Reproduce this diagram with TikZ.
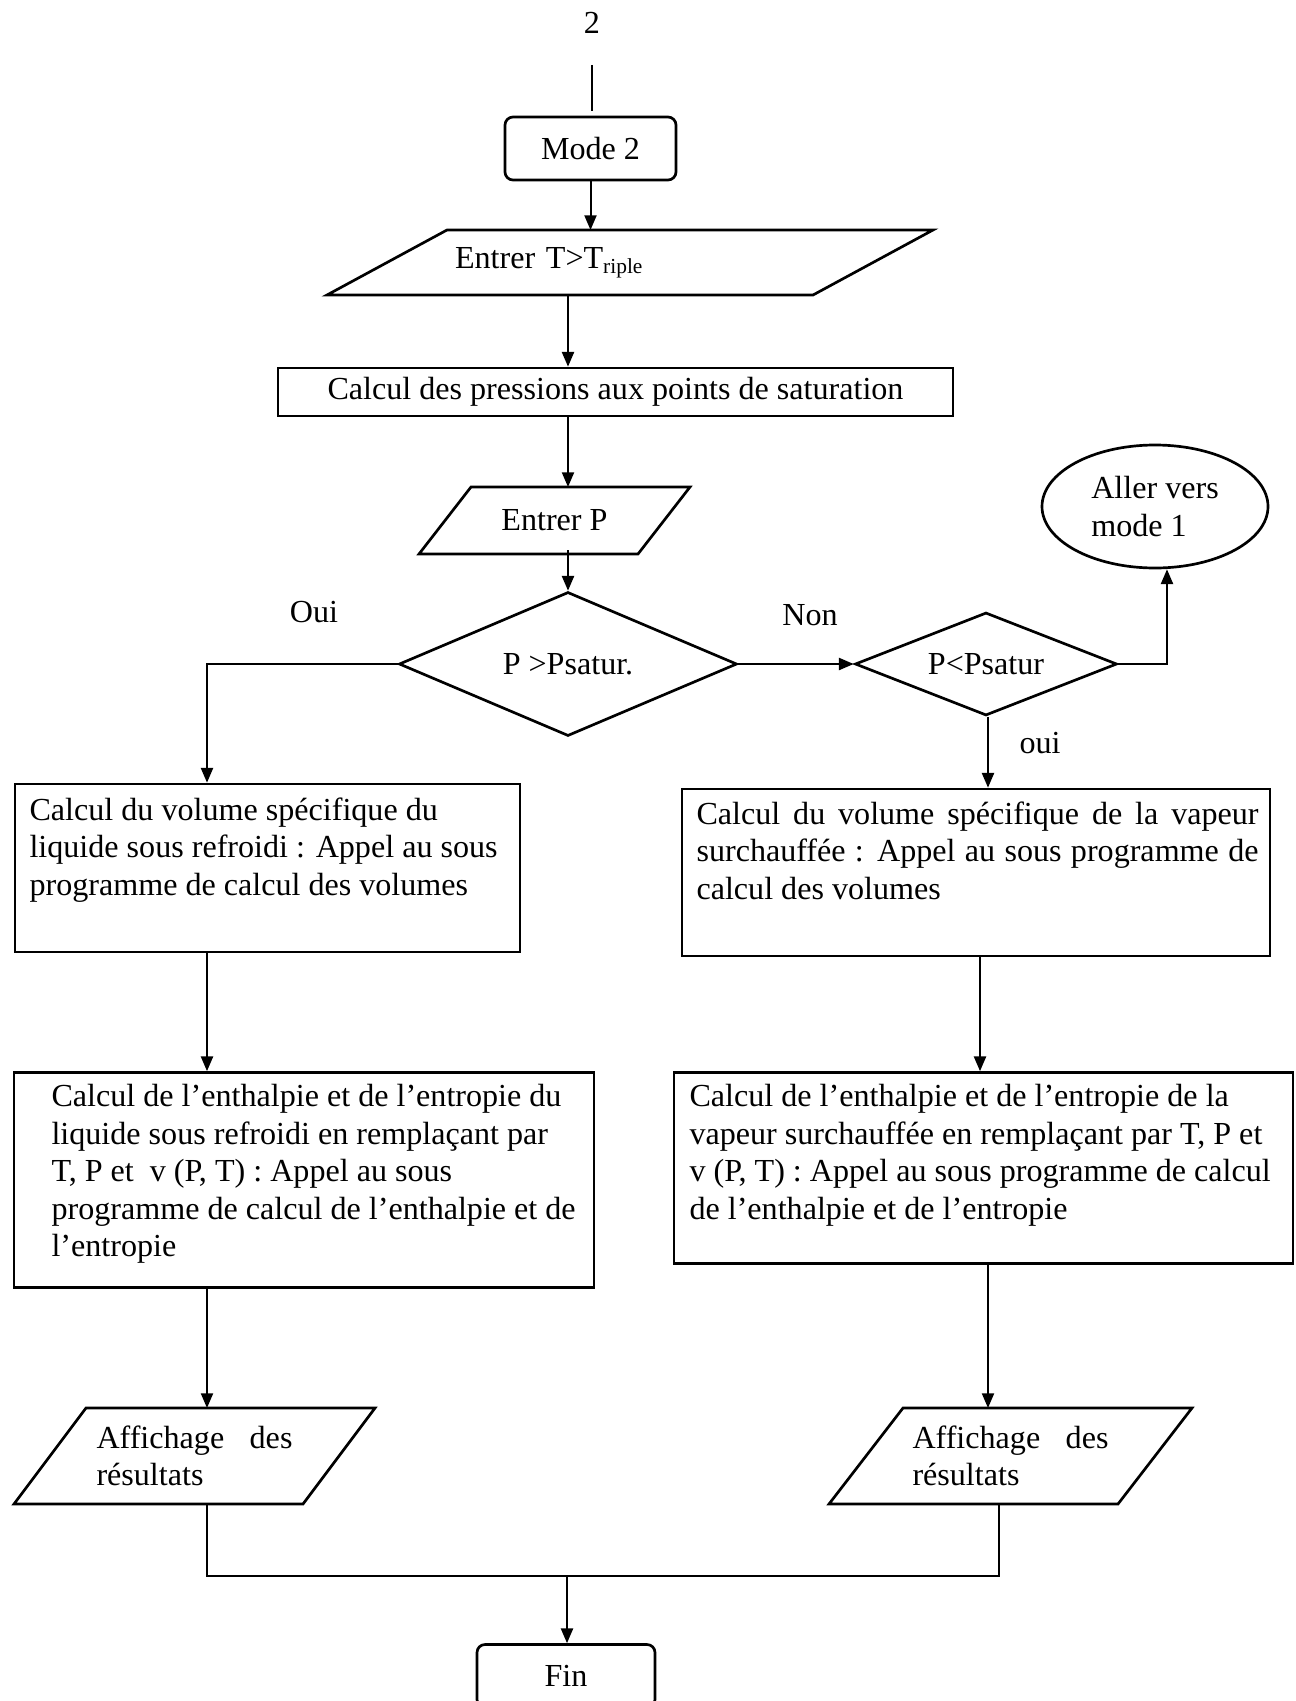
\documentclass[tikz,border=0pt]{standalone}
\usepackage{fontspec}
\setmainfont{Liberation Serif}
\usetikzlibrary{shapes.geometric, positioning, calc, arrows.meta}
\tolerance=10000
\newcommand{\unitpx}{0.3738pt}
\tikzset{
    dim/.style 2 args={minimum width=#1*\unitpx, minimum height=#2*\unitpx},
    blocco/.style={draw, line width=1pt, inner sep=0pt},
    arrondi/.style={blocco, rounded corners=3pt},
    losange/.style={blocco, diamond},
    sortie/.style={inner sep=0pt, outer sep=0pt},
    contorno/.style={draw, line width=1pt, line join=miter},
    testo/.style={inner sep=0pt, anchor=north west, align=left},
    linea/.style={line width=0.75pt},
    freccia/.style={line width=0.75pt, -{Triangle[length=5.5pt,width=4.5pt]}}
}
\begin{document}
\begin{tikzpicture}[x=\unitpx, y=-\unitpx, font=\fontsize{12}{14}\selectfont]
        \useasboundingbox (0,0) rectangle (1295,1701);
        %blocchi
            \node[inner sep=0pt] (deux) at (592,23) {2};
            \node[arrondi, dim={171}{63}] (mode2) at (590.5,148.5) {Mode 2};
            \node[sortie, dim={606}{65}, text width=350*\unitpx, align=left] (entT) at (630,262.5) {Entrer T>T\textsubscript{riple}};
            \node[blocco, dim={675}{48}] (calc) at (615.5,392) {Calcul des pressions aux points de saturation};
            \node[sortie, dim={271}{67}] (entP) at (554.5,520.5) {Entrer P};
            \node[losange, aspect=2.35, dim={338}{144}] (dia1) at (568,664) {P >Psatur.};
            \node[losange, aspect=2.54, dim={262}{103}] (dia2) at (986,664) {P<Psatur};
            \node[blocco, ellipse, dim={226}{123}, align=left] (aller) at (1155,506.5) {Aller vers\\mode 1};
            \node[blocco, dim={505}{168}] (volL) at (267.5,868) {};
            \node[blocco, dim={588}{167}] (volR) at (976,872.5) {};
            \node[blocco, dim={580}{215}] (enthL) at (304,1180) {};
            \node[blocco, dim={619}{191}] (enthR) at (983.5,1168) {};
            \node[sortie, dim={361}{96}, text width=196*\unitpx, align=justify] (affL) at (194.5,1456) {Affichage des résultats};
            \node[sortie, dim={363}{96}, text width=196*\unitpx, align=justify] (affR) at (1010.5,1456) {Affichage des résultats};
            \node[arrondi, dim={178}{63}] (fin) at (566,1676) {Fin};
        %parallelogrammi
            \draw[contorno] ($(entT.north west)+(120,0)$) -- (entT.north east) -- ($(entT.south east)+(-120,0)$) -- (entT.south west) -- cycle;
            \draw[contorno] ($(entP.north west)+(52,0)$) -- (entP.north east) -- ($(entP.south east)+(-52,0)$) -- (entP.south west) -- cycle;
            \draw[contorno] ($(affL.north west)+(72,0)$) -- (affL.north east) -- ($(affL.south east)+(-72,0)$) -- (affL.south west) -- cycle;
            \draw[contorno] ($(affR.north west)+(74,0)$) -- (affR.north east) -- ($(affR.south east)+(-74,0)$) -- (affR.south west) -- cycle;
        %testi dei riquadri
            \node[testo] (volLtxt) at (29,797) {Calcul du volume spécifique du\\liquide sous refroidi : Appel au sous\\programme de calcul des volumes};
            \node[testo, text width=562*\unitpx, align=justify] (volRtxt) at (696,801) {Calcul du volume spécifique de la vapeur surchauffée~: Appel au sous programme de calcul des volumes};
            \node[testo] (enthLtxt) at (51,1084) {Calcul de l’enthalpie et de l’entropie du\\liquide sous refroidi en remplaçant par\\T, P et \ v (P, T) : Appel au sous\\programme de calcul de l’enthalpie et de\\l’entropie};
            \node[testo] (enthRtxt) at (689,1084) {Calcul de l’enthalpie et de l’entropie de la\\vapeur surchauffée en remplaçant par T, P et\\v (P, T) : Appel au sous programme de calcul\\de l’enthalpie et de l’entropie};
        %colonne
            \coordinate (colL) at (207,0);
            \coordinate (colR) at (988,0);
            \coordinate (giunzione) at (567,1576);
        %frecce
            \draw[linea, shorten <=11.5pt, shorten >=1.9pt] (deux.south) -- (deux.south |- mode2.north);
            \draw[freccia] (mode2.south) -- (mode2.south |- entT.north);
            \draw[freccia] (dia1.north |- entT.south) -- (dia1.north |- calc.north);
            \draw[freccia] (dia1.north |- calc.south) -- (dia1.north |- entP.north);
            \draw[freccia] ($(dia1.north |- entP.south)+(0,-4)$) -- (dia1.north);
            \draw[freccia] (dia1.west) -| (colL |- volL.north);
            \draw[freccia] (dia1.east) -- (dia2.west);
            \draw[freccia] (dia2.east) -| ($(aller.south)+(12,0)$);
            \draw[freccia] (colR |- dia2.south) -- (colR |- volR.north);
            \draw[freccia] (colL |- volL.south) -- (colL |- enthL.north);
            \draw[freccia] ($(volR.south)+(4,0)$) -- ($(volR.south |- enthR.north)+(4,0)$);
            \draw[freccia] (colL |- enthL.south) -- (colL |- affL.north);
            \draw[freccia] (colR |- enthR.south) -- (colR |- affR.north);
            \draw[linea] (colL |- affL.south) |- (giunzione) -| ($(affR.south)+(-12,0)$);
            \draw[freccia] (giunzione) -- (giunzione |- fin.north);
        %etichette
            \node (oui1) at (314,612) {Oui};
            \node (non) at (810,615) {Non};
            \node (oui2) at (1040,743) {oui};
\end{tikzpicture}
\end{document}
